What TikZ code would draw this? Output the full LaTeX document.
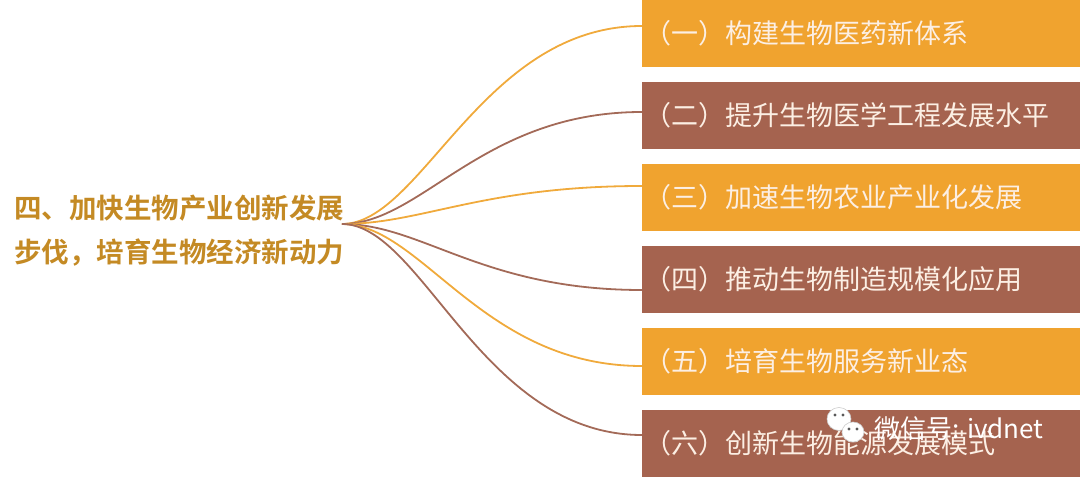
\documentclass[tikz,border=0pt]{standalone}
\usepackage{fontspec}
\newfontfamily\cjk{Noto Sans CJK SC}
\newfontfamily\cjkbold{Noto Sans CJK SC Bold}
\usetikzlibrary{calc}
\definecolor{boxorange}{HTML}{F0A32F}
\definecolor{boxbrown}{HTML}{A5634F}
\definecolor{lineorange}{HTML}{F0AA3C}
\definecolor{linebrown}{HTML}{A36A58}
\definecolor{titlegold}{HTML}{C48A24}
\definecolor{boxtext}{HTML}{FCEFE4}
\tikzset{
 title/.style={anchor=west, align=left, inner sep=0, text=titlegold, font=\cjkbold\fontsize{27.5}{44}\selectfont},
 branch/.style={anchor=north west, rectangle, minimum width=438pt, minimum height=67pt, text width=434pt, inner xsep=2pt, align=left, text=boxtext, font=\cjk\fontsize{27}{30}\selectfont},
 bubble/.style={fill=white, draw=gray!40, line width=.6pt},
}
\begin{document}
\begin{tikzpicture}[x=1pt,y=-1pt]
\useasboundingbox (0,0) rectangle (1080,478);
\node[title] (root) at (14,231) {四、加快生物产业创新发展\\步伐，培育生物经济新动力};
\coordinate (hub) at (342,224);
\foreach \i/\t/\c/\e in {1/{（一）构建生物医药新体系}/orange/26,
 2/{（二）提升生物医学工程发展水平}/brown/30,
 3/{（三）加速生物农业产业化发展}/orange/22,
 4/{（四）推动生物制造规模化应用}/brown/44,
 5/{（五）培育生物服务新业态}/orange/38,
 6/{（六）创新生物能源发展模式}/brown/25} {
 \node[branch, fill=box\c] (b\i) at (642,{82*(\i-1)}) {\t};
 \draw[line\c, line width=1.8pt] (hub) .. controls +(80,0) and +(-160,0) .. ([yshift=-\e pt]b\i.north west);
}
\filldraw[bubble] (839,419) ellipse (12 and 11.5);
\filldraw[bubble] (853,432) ellipse (11 and 10);
\foreach \p in {(835,415),(843,415),(849,429),(857,429)}
 \fill[gray!70!black] \p circle (1.6);
\node[anchor=west, inner sep=0, text=white, font=\cjk\fontsize{26}{26}\selectfont] (wm) at (874,429) {微信号: ivdnet};
\end{tikzpicture}
\end{document}
